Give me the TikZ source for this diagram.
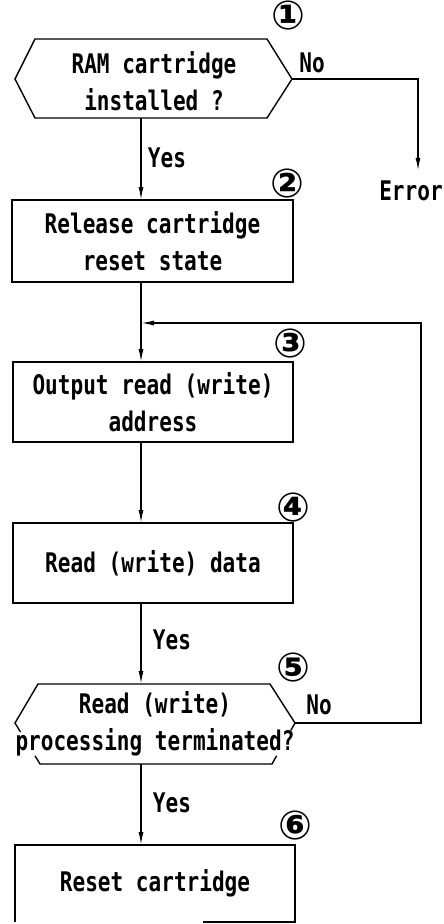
\documentclass[tikz,border=0pt]{standalone}
\usepackage{fontspec}
\newfontfamily\flowfont{DejaVu Sans Mono}[FakeStretch=0.78]
\newfontfamily\circfont{DejaVu Sans}
\usetikzlibrary{arrows.meta,calc}
\begin{document}
\begin{tikzpicture}[x=1pt,y=-1pt,
  line/.style={line width=1.4pt},
  arr/.style={line, -{Latex[length=13pt,width=5pt]}},
  txt/.style={font=\flowfont\bfseries\fontsize{27}{37}\selectfont, align=center, inner sep=0pt},
  box/.style={txt, draw, line width=1.4pt, minimum width=280pt, minimum height=80pt, outer sep=0pt},
  num/.style={font=\circfont\bfseries\fontsize{40}{40}\selectfont, inner sep=0pt},
]
\useasboundingbox (0,0) rectangle (444,924);
\fill[white] (0,0) rectangle (444,924);

% guide lines for the main flow and the loop-back
\coordinate (flow) at (141,0);
\coordinate (loopx) at (421,0);

% decision 1: hexagon
\coordinate (d1L) at (15,79);
\coordinate (d1TL) at (35,39);
\coordinate (d1TR) at (267,39);
\coordinate (d1R) at (292,79);
\coordinate (d1BR) at (267,118);
\coordinate (d1BL) at (35,118);
\coordinate (d1B) at (141,118);
\draw[line] (d1L) -- (d1TL) -- (d1TR) -- (d1R) -- (d1BR) -- (d1BL) -- cycle;
\node[txt] (d1) at (154,81) {RAM cartridge\\installed ?};
\node[num] (n1) at (288,15) {①};
\node[txt] (no1) at (312,63) {No};
\node[txt] (err) at (411,191) {Error};

% process boxes
\node[box, minimum width=281pt, minimum height=82pt] (b2) at (152.5,241) {Release cartridge\\reset state};
\node[num] (n2) at (287,183) {②};
\node[box] (b3) at (153,402) {Output read (write)\\address};
\node[num] (n3) at (290,343) {③};
\node[box] (b4) at (153,563) {Read (write) data};
\node[num] (n4) at (293,507) {④};

% decision 5: hexagon, lower slants broken by the text
\coordinate (d5L) at (15,723);
\coordinate (d5TL) at (38,684);
\coordinate (d5TR) at (270,684);
\coordinate (d5R) at (295,723);
\coordinate (d5BR) at (272,764);
\coordinate (d5BL) at (40,764);
\coordinate (d5T) at (141,684);
\coordinate (d5B) at (141,764);
\draw[line] ($(d5L)!0.22!(d5BL)$) -- (d5L) -- (d5TL) -- (d5TR) -- (d5R) -- ($(d5R)!0.18!(d5BR)$);
\draw[line] ($(d5BL)!0.2!(d5L)$) -- (d5BL) -- (d5BR) -- ($(d5BR)!0.2!(d5R)$);
\node[txt] (d5) at (155,724) {Read (write)\\processing terminated?};
\node[num] (n5) at (293,667) {⑤};
\node[txt] (no5) at (319,705) {No};

% last box, cut at the bottom edge
\node[txt, minimum width=280pt, minimum height=77pt, outer sep=0pt] (b6) at (155,883.5) {Reset cartridge};
\draw[line] ([xshift=48pt]b6.south) -- (b6.south east) -- (b6.north east) -- (b6.north west) -- (b6.south west);
\node[num] (n6) at (295,825) {⑥};

% connectors
\coordinate (J) at (141,323);
\draw[arr] (d1B) -- (b2.north -| flow);
\node[txt] (yes1) at (167,158) {Yes};
\draw[arr] (d1R) -| ([xshift=7pt,yshift=10pt]err.north);
\draw[line] (b2.south -| flow) -- (J);
\draw[arr] (J) -- (b3.north -| flow);
\draw[arr] (d5R) -- (d5R -| loopx) -- (J -| loopx) -- (J);
\draw[arr] (b3.south -| flow) -- (b4.north -| flow);
\draw[arr] (b4.south -| flow) -- (d5T);
\node[txt] (yes4) at (172,640) {Yes};
\draw[arr] (d5B) -- (b6.north -| flow);
\node[txt] (yes5) at (172,803) {Yes};
\end{tikzpicture}
\end{document}
